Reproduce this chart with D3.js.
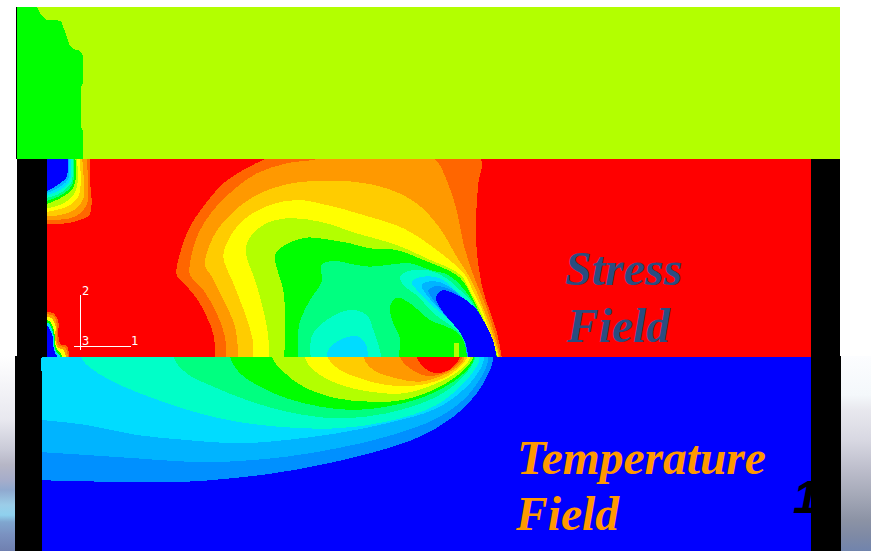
<!DOCTYPE html>
<html>
<head>
<meta charset="utf-8">
<script src="https://cdn.jsdelivr.net/npm/d3@7"></script>
<style>
html, body { margin: 0; padding: 0; background: #fff; overflow: hidden; }
svg { display: block; }
</style>
</head>
<body>
<div id="chart"></div>
<script>
// contour levels, low to high
const levelColors = ['#0000ff', '#0090ff', '#00b4ff', '#00dcff', '#00ffc8', '#00ff80', '#00ff00',
	'#b3ff00', '#ffff00', '#ffcc00', '#ff9900', '#ff6600', '#ff0000'];

// top strip, one contour on level 7 ground
const strainLow = [[52,20],[110,20],[120,40],[140,60],[183,62],[195,95],[208,135],[220,148],[237,150],
	[248,165],[248,250],[243,260],[243,380],[248,390],[248,480],[52,480]];

// stress field main lobe, painted in this order
const sOrangeRed = [[132,650],[132,560],[110,500],[80,445],[40,398],[20,375],[30,310],[60,230],[100,170],[160,100],[220,60],[285,27],[400,-20],[800,-20],[932,27],[925,100],[918,200],[920,300],[930,375],[940,425],[960,485],[980,545],[995,622],[997,650]];
const sOrange = [[167,650],[165,560],[140,490],[100,420],[60,375],[60,340],[85,250],[130,180],[190,120],[260,70],[350,40],[445,27],[600,-20],[700,-20],[795,27],[830,90],[860,180],[880,280],[910,375],[930,425],[950,475],[972,545],[992,622],[994,650]];
const sGold = [[207,650],[195,530],[160,450],[125,380],[105,345],[130,260],[180,195],[250,140],[340,105],[430,93],[550,95],[650,115],[740,160],[810,235],[860,320],[895,375],[920,425],[940,475],[965,540],[988,622],[990,650]];
const sYellow = [[250,650],[248,570],[225,490],[190,400],[160,320],[175,270],[220,210],[300,165],[380,150],[470,165],[580,195],[700,235],[800,300],[885,375],[910,425],[935,475],[958,540],[986,622],[988,650]];
const sLime = [[295,650],[295,560],[280,480],[255,390],[228,310],[235,270],[280,225],[350,205],[450,215],[560,250],[680,285],[770,325],[872,375],[898,420],[925,470],[952,535],[984,622],[986,650]];
const sGreen = [[342,650],[345,500],[340,420],[315,315],[345,285],[410,263],[470,268],[540,280],[600,295],[680,300],[760,330],[860,375],[890,410],[915,460],[945,525],[982,622],[984,650]];
const sSpring = [[385,650],[385,540],[395,500],[420,450],[455,395],[455,345],[490,333],[560,345],[600,350],[650,345],[720,340],[780,360],[835,375],[875,410],[905,450],[940,515],[980,622],[982,650]];
const sIsland = [[680,650],[690,565],[670,520],[660,470],[680,443],[720,460],[780,510],[830,530],[870,555],[895,622],[897,650]];
const sNotch = [[853,580],[868,580],[868,650],[853,650]];
const sAquaBump = [[425,650],[425,560],[470,510],[540,480],[590,495],[610,540],[635,622],[637,650]];
const sCyanBump = [[470,650],[475,600],[520,565],[565,560],[590,590],[592,650]];
const sAquaTail = [[895,650],[890,590],[875,555],[840,525],[790,490],[745,440],[700,405],[690,380],[720,362],[780,362],[830,385],[870,420],[900,450],[935,510],[978,622],[980,650]];
const sCyanTail = [[895,650],[885,570],[855,525],[790,470],[750,430],[725,395],[760,380],[810,385],[860,425],[895,460],[930,515],[975,622],[978,650]];
const sSkyTail = [[895,650],[880,565],[855,525],[810,480],[770,435],[755,405],[790,393],[830,405],[875,440],[910,480],[945,545],[972,620],[976,650]];
const sAzureTail = [[897,650],[883,572],[860,532],[820,490],[790,450],[775,422],[800,408],[840,418],[880,445],[915,485],[950,550],[975,622],[978,650]];
const sBlueTail = [[900,650],[885,575],[865,540],[830,500],[805,465],[798,440],[819,420],[850,430],[879,444],[921,480],[945,520],[969,570],[980,622],[983,650]];

const stressLobe = [
	{level: 11, pts: sOrangeRed}, {level: 10, pts: sOrange}, {level: 9, pts: sGold}, {level: 8, pts: sYellow},
	{level: 7, pts: sLime}, {level: 6, pts: sGreen}, {level: 5, pts: sSpring}, {level: 6, pts: sIsland},
	{level: 4, pts: sAquaBump}, {level: 3, pts: sCyanBump}, {level: 4, pts: sAquaTail},
	{level: 3, pts: sCyanTail}, {level: 2, pts: sSkyTail}, {level: 1, pts: sAzureTail}, {level: 0, pts: sBlueTail}
];

// stress field, corner at top left
const cornerBands = [
	{level: 11, pts: [[150,-10],[150,80],[155,140],[148,180],[120,195],[80,205],[10,207],[-10,207],[-10,-10]]},
	{level: 10, pts: [[138,-10],[145,100],[140,150],[120,175],[90,190],[10,195],[-10,195],[-10,-10]]},
	{level: 9, pts: [[125,-10],[132,90],[130,130],[110,160],[70,178],[10,185],[-10,185],[-10,-10]]},
	{level: 8, pts: [[118,-10],[122,90],[115,125],[90,150],[50,165],[10,172],[-10,172],[-10,-10]]},
	{level: 7, pts: [[110,-10],[112,90],[100,120],[70,145],[10,162],[-10,162],[-10,-10]]},
	{level: 6, pts: [[105,-10],[105,85],[90,110],[60,130],[10,150],[-10,150],[-10,-10]]},
	{level: 5, pts: [[100,-10],[100,80],[85,105],[55,125],[10,140],[-10,140],[-10,-10]]},
	{level: 4, pts: [[97,-10],[95,80],[80,100],[50,120],[10,130],[-10,130],[-10,-10]]},
	{level: 3, pts: [[92,-10],[90,75],[75,95],[45,112],[10,125],[-10,125],[-10,-10]]},
	{level: 2, pts: [[87,-10],[85,70],[68,90],[35,108],[10,118],[-10,118],[-10,-10]]},
	{level: 0, pts: [[82,-10],[80,65],[60,85],[20,108],[10,110],[-10,110],[-10,-10]]}
];

// stress field, small lobe at lower left
const heelBands = [
	{level: 11, pts: [[90,175],[80,122],[62,118],[55,90],[55,50],[40,25],[20,22],[-10,22],[-10,175]]},
	{level: 10, pts: [[87,175],[76,128],[57,122],[50,100],[50,55],[40,32],[20,28],[-10,28],[-10,175]]},
	{level: 8, pts: [[82,175],[70,135],[54,128],[46,105],[46,60],[35,40],[20,35],[-10,35],[-10,175]]},
	{level: 6, pts: [[76,175],[62,145],[52,135],[45,115],[42,75],[30,50],[20,45],[-10,45],[-10,175]]},
	{level: 3, pts: [[70,175],[58,150],[48,140],[42,120],[40,85],[30,60],[20,52],[-10,52],[-10,175]]},
	{level: 0, pts: [[65,175],[55,158],[46,145],[40,125],[38,95],[28,70],[20,60],[-10,60],[-10,175]]}
];

// temperature field
const temperatureBands = [
	{level: 1, pts: [[40,390],[250,395],[500,395],[600,388],[760,370],[900,345],[1050,310],[1200,260],[1300,200],[1370,130],[1410,60],[1420,25],[1420,-10],[40,-10]]},
	{level: 2, pts: [[40,305],[200,315],[350,325],[500,335],[620,335],[800,320],[950,295],[1100,260],[1250,205],[1340,140],[1395,60],[1405,25],[1405,-10],[40,-10]]},
	{level: 3, pts: [[40,208],[200,225],[350,255],[500,270],[650,280],[800,270],[950,250],[1100,220],[1250,175],[1340,110],[1385,50],[1392,25],[1392,-10],[40,-10]]},
	{level: 4, pts: [[185,-10],[185,25],[220,60],[300,105],[400,145],[520,185],[650,215],[800,232],[950,235],[1100,215],[1250,165],[1340,90],[1375,40],[1378,25],[1378,-10]]},
	{level: 5, pts: [[462,-10],[462,25],[500,70],[580,110],[680,150],[800,185],[950,205],[1100,190],[1250,140],[1330,80],[1365,25],[1365,-10]]},
	{level: 6, pts: [[632,-10],[632,25],[660,70],[720,110],[800,145],[900,170],[1000,180],[1100,170],[1200,145],[1300,95],[1350,50],[1362,25],[1362,-10]]},
	{level: 7, pts: [[758,-10],[758,25],[790,65],[850,110],[950,145],[1050,155],[1150,150],[1250,115],[1320,70],[1358,25],[1358,-10]]},
	{level: 8, pts: [[855,-10],[855,25],[880,60],[950,100],[1050,125],[1150,130],[1250,100],[1320,60],[1350,25],[1350,-10]]},
	{level: 9, pts: [[925,-10],[925,25],[960,60],[1020,85],[1100,105],[1200,105],[1280,80],[1325,45],[1340,25],[1340,-10]]},
	{level: 10, pts: [[1032,-10],[1032,25],[1060,60],[1130,85],[1200,95],[1270,75],[1320,45],[1332,25],[1332,-10]]},
	{level: 11, pts: [[1142,-10],[1142,25],[1170,55],[1220,78],[1270,70],[1310,45],[1325,25],[1325,-10]]},
	{level: 12, pts: [[1192,-10],[1192,25],[1215,55],[1250,70],[1290,58],[1318,25],[1318,-10]]}
];

// background shading either side of the lower plate: [y, colour]
const leftShade = [[356,'#ffffff'],[420,'#e8e8ef'],[450,'#c9cad7'],[465,'#b6b6c6'],[480,'#a6adca'],[490,'#90a9cf'],[505,'#9bcde8'],[515,'#8fd1ee'],[522,'#80a6cf'],[535,'#7a91c0'],[551,'#7080b0']];
const rightShade = [[356,'#fcfdff'],[395,'#f4f8fb'],[410,'#e8e8ee'],[440,'#d8d8e2'],[470,'#bcbdcb'],[495,'#a5a9b8'],[520,'#8c93a5'],[535,'#7f8aa5'],[551,'#7184ad']];

const width = 873, height = 551;

const color = d3.scaleOrdinal().domain(d3.range(levelColors.length)).range(levelColors);

const svg = d3.select('#chart').append('svg')
	.attr('width', width)
	.attr('height', height);
const defs = svg.append('defs');

function panel(x, y, w, h, fill){
	return svg.append('rect')
		.attr('x', x).attr('y', y).attr('width', w).attr('height', h)
		.attr('fill', fill)
		.attr('shape-rendering', 'crispEdges');
}

function shade(id, stops, x, w){
	const top = stops[0][0], bottom = stops[stops.length - 1][0];
	const offset = d3.scaleLinear().domain([top, bottom]).range([0, 1]);
	const grad = defs.append('linearGradient').attr('id', id)
		.attr('x1', 0).attr('x2', 0).attr('y1', 0).attr('y2', 1);
	grad.selectAll('stop').data(stops).enter().append('stop')
		.attr('offset', d => offset(d[0]))
		.attr('stop-color', d => d[1]);
	panel(x, top, w, bottom - top, `url(#${id})`);
}

// draws painted contour regions inside a clip box
function drawField(id, bands, box, domX, domY, rangeX, rangeY, curve = d3.curveCatmullRom.alpha(0.5)){
	const x = d3.scaleLinear().domain(domX).range(rangeX);
	const y = d3.scaleLinear().domain(domY).range(rangeY);
	const line = d3.line().x(d => x(d[0])).y(d => y(d[1])).curve(curve);
	defs.append('clipPath').attr('id', id).append('rect')
		.attr('x', box[0]).attr('y', box[1]).attr('width', box[2]).attr('height', box[3]);
	svg.append('g').attr('clip-path', `url(#${id})`)
		.selectAll('path').data(bands).enter().append('path')
		.attr('d', d => line(d.pts) + 'Z')
		.attr('fill', d => color(d.level))
		.attr('shape-rendering', 'crispEdges');
}

// side shading and black frames
shade('shadeLeft', leftShade, 0, 15);
shade('shadeRight', rightShade, 841, 30);
panel(17, 159, 30, 198, '#000');
panel(811, 159, 29, 198, '#000');
panel(15, 356, 27, 195, '#000');
panel(811, 356, 30, 195, '#000');
panel(16, 7, 1, 152, '#000');

// top strip
panel(17, 7, 823, 152, color(7));
drawField('clipTop', [{level: 6, pts: strainLow}], [17, 7, 823, 152], [0, 600], [0, 540], [0, 200], [0, 180], d3.curveLinear);

// stress plate
panel(47, 159, 764, 198, color(12));
drawField('clipStress', stressLobe, [47, 159, 764, 198], [0, 1020], [0, 645], [170, 510], [150, 365]);
drawField('clipNotch', [{level: 7, pts: sNotch}], [47, 159, 764, 198], [0, 1020], [0, 645], [170, 510], [150, 365], d3.curveLinear);
drawField('clipCorner', cornerBands, [47, 159, 60, 70], [0, 180], [0, 225], [40, 100], [155, 230]);
drawField('clipHeel', heelBands, [47, 305, 40, 52], [0, 120], [0, 180], [40, 80], [305, 365]);

// temperature plate
panel(42, 357, 769, 194, color(0));
panel(41, 358, 1, 13, color(3));
drawField('clipTemp', temperatureBands, [42, 357, 769, 194], [0, 1470], [0, 450], [20, 510], [350, 500]);

// coordinate triad
const triad = svg.append('g').attr('stroke', '#fff').attr('stroke-width', 1).attr('shape-rendering', 'crispEdges');
triad.append('line').attr('x1', 80.5).attr('x2', 80.5).attr('y1', 295).attr('y2', 350);
triad.append('line').attr('x1', 74).attr('x2', 131).attr('y1', 346.5).attr('y2', 346.5);
const triadLabels = [['2', 82, 295], ['3', 82, 345], ['1', 131, 345]];
svg.selectAll('.triadLabel').data(triadLabels).enter().append('text')
	.attr('class', 'triadLabel')
	.attr('x', d => d[1]).attr('y', d => d[2])
	.attr('fill', '#fff')
	.attr('font-family', 'DejaVu Sans Mono, monospace')
	.attr('font-size', 12)
	.text(d => d[0]);

// captions
const captions = [
	['Stress', 565, 285, '#2a4d80', 48], ['Field', 567, 342, '#2a4d80', 47.5],
	['Temperature', 517, 474, '#ff9900', 47.5], ['Field', 516, 530, '#ff9900', 47.5]
];
svg.selectAll('.caption').data(captions).enter().append('text')
	.attr('class', 'caption')
	.attr('x', d => d[1]).attr('y', d => d[2])
	.attr('fill', d => d[3])
	.attr('font-family', 'Liberation Serif, serif')
	.attr('font-weight', 'bold')
	.attr('font-style', 'italic')
	.attr('font-size', d => d[4])
	.text(d => d[0]);

svg.append('text')
	.attr('x', 793).attr('y', 513)
	.attr('fill', '#000')
	.attr('font-family', 'Liberation Sans, sans-serif')
	.attr('font-weight', 'bold')
	.attr('font-style', 'italic')
	.attr('font-size', 46)
	.text('1');
</script>
</body>
</html>
